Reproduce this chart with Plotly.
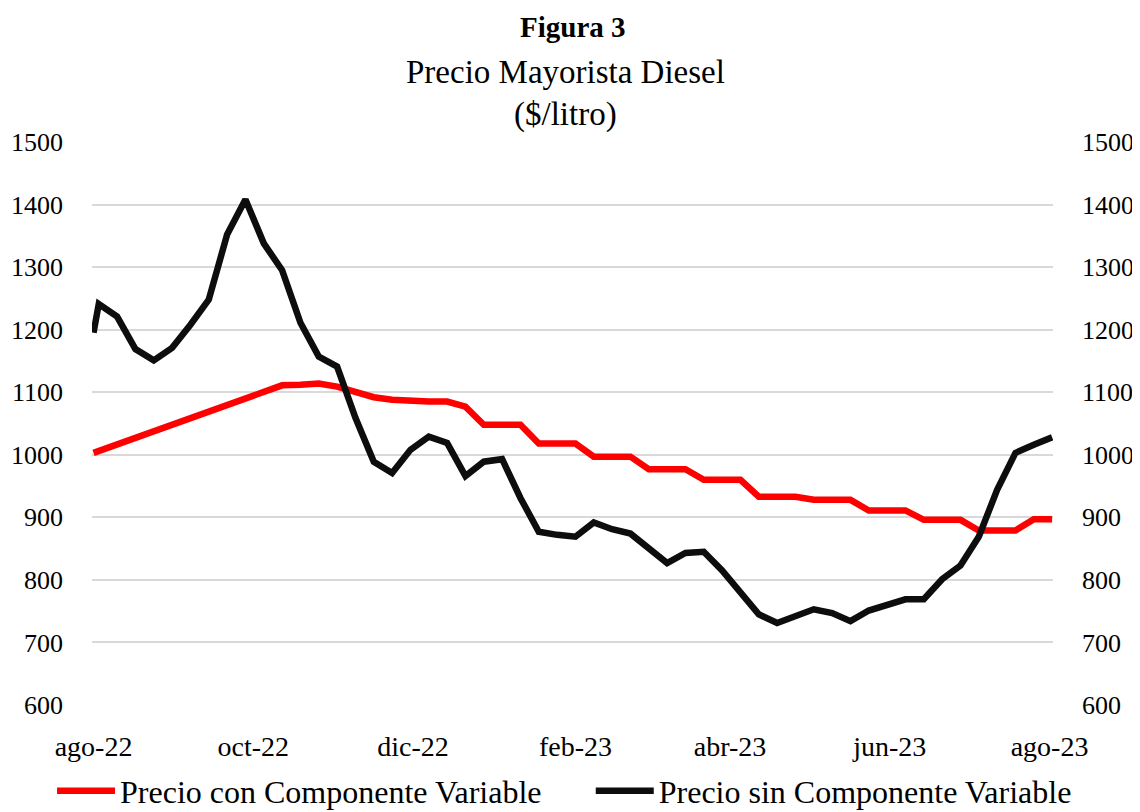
import plotly.graph_objects as go

# Fechas semanales (primer punto al inicio del eje)
fechas = [
    "2022-08-01", "2022-08-03", "2022-08-10", "2022-08-17", "2022-08-24", "2022-08-31",
    "2022-09-07", "2022-09-14", "2022-09-21", "2022-09-28",
    "2022-10-05", "2022-10-12", "2022-10-19", "2022-10-26",
    "2022-11-02", "2022-11-09", "2022-11-16", "2022-11-23", "2022-11-30",
    "2022-12-07", "2022-12-14", "2022-12-21", "2022-12-28",
    "2023-01-04", "2023-01-11", "2023-01-18", "2023-01-25",
    "2023-02-01", "2023-02-08", "2023-02-15", "2023-02-22",
    "2023-03-01", "2023-03-08", "2023-03-15", "2023-03-22", "2023-03-29",
    "2023-04-05", "2023-04-12", "2023-04-19", "2023-04-26",
    "2023-05-03", "2023-05-10", "2023-05-17", "2023-05-24", "2023-05-31",
    "2023-06-07", "2023-06-14", "2023-06-21", "2023-06-28",
    "2023-07-05", "2023-07-12", "2023-07-19", "2023-07-26",
    "2023-08-02",
]

precio_con = [
    1003, 1006, 1017, 1027, 1037, 1047, 1058, 1068, 1079, 1090,
    1100, 1111, 1112, 1114, 1109, 1101, 1092, 1088, 1086, 1085,
    1085, 1077, 1048, 1048, 1048, 1018, 1018, 1018, 997, 997,
    997, 977, 977, 977, 960, 960, 960, 933, 933, 933,
    928, 928, 928, 911, 911, 911, 896, 896, 896, 879,
    879, 879, 897, 897,
]

precio_sin = [
    1195, 1241, 1221, 1169, 1151, 1171, 1208, 1248, 1352, 1408,
    1338, 1295, 1211, 1157, 1141, 1059, 989, 971, 1008, 1029,
    1019, 966, 989, 993, 931, 877, 872, 869, 892, 881,
    874, 849, 827, 843, 845, 815, 779, 745, 731, 741,
    753, 747, 734, 751, 760, 769, 769, 801, 823, 869,
    944, 1003, 1016, 1028,
]

tick_fechas = ["2022-08-01", "2022-10-01", "2022-12-01", "2023-02-01",
               "2023-04-01", "2023-06-01", "2023-08-01"]
tick_textos = ["ago-22", "oct-22", "dic-22", "feb-23", "abr-23", "jun-23", "ago-23"]

FONT = "Liberation Serif"

fig = go.Figure()
fig.add_trace(go.Scatter(
    x=fechas, y=precio_con, name="Precio con Componente Variable",
    mode="lines", line=dict(color="#FF0000", width=6.5), legend="legend",
))
fig.add_trace(go.Scatter(
    x=fechas, y=precio_sin, name="Precio sin Componente Variable",
    mode="lines", line=dict(color="#0D0D0D", width=6.5), yaxis="y2",
    legend="legend2",
))

legend_common = dict(
    orientation="h", xanchor="left", y=-0.1528, yanchor="middle",
    font=dict(size=32, family=FONT), itemwidth=58,
    bgcolor="rgba(0,0,0,0)",
)

fig.update_layout(
    width=1132, height=804,
    margin=dict(l=84, r=87, t=134, b=107, autoexpand=False),
    paper_bgcolor="white", plot_bgcolor="white",
    font=dict(family=FONT, color="black", size=27),
    showlegend=True,
    xaxis=dict(
        type="date", range=["2022-07-31 10:00", "2023-08-02 08:00"],
        tickmode="array", tickvals=tick_fechas, ticktext=tick_textos,
        showgrid=False, showline=False, zeroline=False, ticks="",
        tickfont=dict(size=28), ticklabelstandoff=22, automargin=False,
    ),
    yaxis=dict(
        range=[600, 1500], dtick=100, tick0=0,
        gridcolor="#D9D9D9", gridwidth=1.5, zeroline=False, showline=False,
        ticks="", tickfont=dict(size=26), ticklabelstandoff=28, automargin=False,
    ),
    yaxis2=dict(
        range=[600, 1500], dtick=100, tick0=0, overlaying="y", side="right",
        showgrid=False, zeroline=False, showline=False,
        ticks="", tickfont=dict(size=26), ticklabelstandoff=28, automargin=False,
    ),
    legend=dict(x=-0.0416, **legend_common),
    legend2=dict(x=0.519, **legend_common),
    annotations=[
        dict(text="<b>Figura 3</b>", xref="paper", yref="paper",
             x=0.5006, y=1.2043, xanchor="center", yanchor="middle",
             showarrow=False, font=dict(size=29, family=FONT)),
        dict(text="Precio Mayorista Diesel", xref="paper", yref="paper",
             x=0.4932, y=1.1243, xanchor="center", yanchor="middle",
             showarrow=False, font=dict(size=33, family=FONT)),
        dict(text="($/litro)", xref="paper", yref="paper",
             x=0.4932, y=1.048, xanchor="center", yanchor="middle",
             showarrow=False, font=dict(size=33, family=FONT)),
    ],
)

fig.write_html("out.html")
